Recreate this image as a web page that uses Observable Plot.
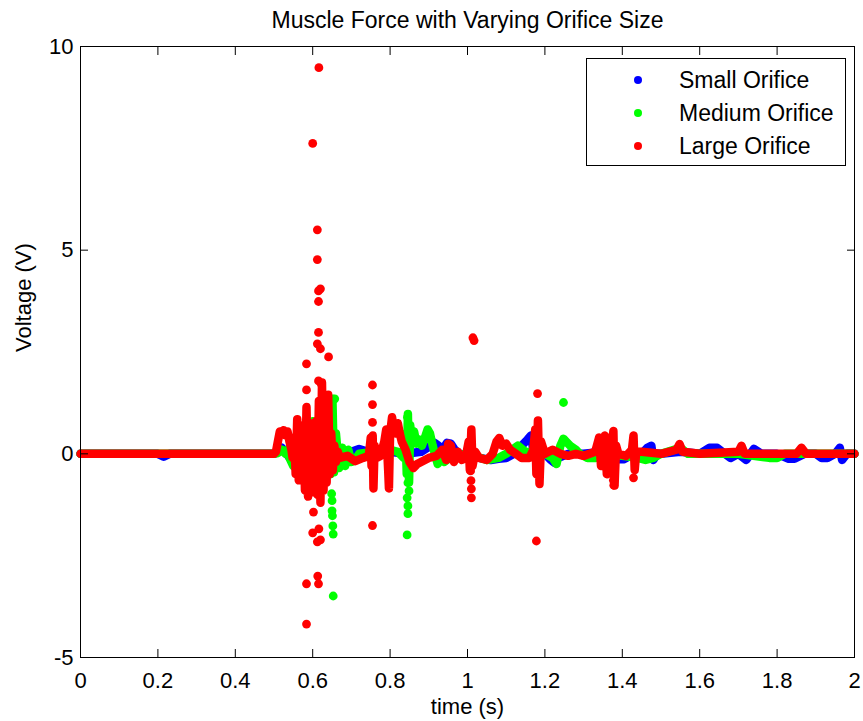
<!DOCTYPE html>
<html><head><meta charset="utf-8">
<script src="https://cdn.jsdelivr.net/npm/d3@7"></script>
<script src="https://cdn.jsdelivr.net/npm/@observablehq/plot@0.6"></script>
<style>
body{margin:0;background:#fff;}
#wrap{position:relative;width:863px;height:721px;font-family:"Liberation Sans",Arial,sans-serif;}
#legend{position:absolute;left:586px;top:58px;width:258px;height:106px;border:1px solid #000;background:#fff;}
#legend .dot{position:absolute;left:47px;width:8px;height:8px;border-radius:50%;}
#legend .lab{position:absolute;left:92px;font-size:23px;line-height:23px;white-space:nowrap;color:#000;}
</style>
</head><body>
<div id="wrap"><div id="chart"></div><div id="legend"></div></div>
<script>
// ---- data ----
const seriesNames = ["Small Orifice", "Medium Orifice", "Large Orifice"];
const seriesColors = ["#0000ff", "#00ff00", "#ff0000"];
const xTicks = [0, 0.2, 0.4, 0.6, 0.8, 1, 1.2, 1.4, 1.6, 1.8, 2];
const xTickLabels = ["0", "0.2", "0.4", "0.6", "0.8", "1", "1.2", "1.4", "1.6", "1.8", "2"];
const yTicks = [-5, 0, 5, 10];
const yTickLabels = ["-5", "0", "5", "10"];

// Small orifice: dense trace
const smallT = [0, 0.2, 0.215, 0.23, 0.5, 0.52, 0.55, 0.58, 0.61, 0.64, 0.67, 0.70, 0.72, 0.76, 0.80, 0.84, 0.88, 0.905, 0.915, 0.925, 0.935, 0.947, 0.957, 0.967, 0.98, 1.0, 1.03, 1.06, 1.08, 1.1, 1.12, 1.13, 1.145, 1.155, 1.164, 1.17, 1.18, 1.2, 1.215, 1.225, 1.235, 1.26, 1.3, 1.35, 1.39, 1.405, 1.42, 1.45, 1.465, 1.475, 1.48, 1.49, 1.5, 1.55, 1.6, 1.625, 1.645, 1.665, 1.68, 1.70, 1.72, 1.74, 1.76, 1.8, 1.83, 1.845, 1.87, 1.9, 1.915, 1.93, 1.95, 1.962, 1.968, 1.98, 2.0];
const smallV = [0, 0, -0.07, 0, 0, 0.15, -0.2, 0.25, -0.3, 0.3, -0.15, 0.05, 0.12, 0, 0.05, 0, 0.05, 0.2, 0.27, 0.2, 0.1, 0.27, 0.25, 0.1, 0.0, -0.05, -0.1, -0.15, -0.12, -0.1, 0.0, 0.1, 0.25, 0.35, 0.45, 0.1, -0.05, 0.0, -0.15, -0.22, -0.1, 0.0, 0.0, 0.05, -0.13, -0.13, -0.05, 0.0, 0.15, 0.2, -0.15, 0.0, 0.0, 0.05, 0.0, 0.15, 0.15, 0.0, -0.1, 0.0, -0.15, 0.12, 0.0, 0.0, -0.12, -0.12, 0.0, 0.0, -0.1, -0.1, 0.0, 0.15, -0.15, 0.0, 0.0];
const smallSpikeT = [];
const smallSpikeV = [];

// Medium orifice
const mediumT = [0, 0.5, 0.51, 0.52, 0.53, 0.535, 0.54, 0.55, 0.56, 0.57, 0.58, 0.59, 0.60, 0.61, 0.62, 0.63, 0.64, 0.646, 0.651, 0.655, 0.66, 0.668, 0.676, 0.684, 0.692, 0.70, 0.71, 0.72, 0.76, 0.80, 0.82, 0.835, 0.84, 0.843, 0.846, 0.849, 0.852, 0.856, 0.862, 0.868, 0.875, 0.882, 0.89, 0.897, 0.903, 0.91, 0.917, 0.923, 0.93, 0.94, 0.96, 1.0, 1.05, 1.08, 1.1, 1.13, 1.15, 1.2, 1.22, 1.23, 1.24, 1.248, 1.255, 1.265, 1.28, 1.29, 1.31, 1.33, 1.36, 1.44, 1.46, 1.48, 1.5, 1.55, 1.57, 1.7, 1.78, 1.8, 1.82, 2.0];
const mediumV = [0, 0, 0.02, 0.1, 0.0, 0.1, -0.1, -0.3, 0.5, -0.6, 0.7, -0.7, 0.8, -0.8, 0.9, -0.7, 1.0, -0.5, 1.35, -0.45, 0.5, -0.35, 0.15, -0.3, 0.1, -0.2, -0.15, 0.0, 0.05, 0.1, 0.05, -0.1, 0.5, -0.5, 0.98, -0.7, 0.7, 0.3, 0.55, 0.25, 0.35, 0.2, 0.4, 0.6, 0.5, 0.2, -0.05, -0.25, -0.15, -0.2, -0.05, 0.0, -0.15, -0.1, 0.0, 0.2, 0.05, 0.0, -0.1, -0.25, 0.2, 0.37, 0.3, 0.2, 0.1, 0.0, -0.1, -0.1, 0.0, -0.1, -0.15, -0.1, 0, 0.15, 0, 0, -0.1, -0.1, 0, 0];
const mediumSpikeT = [0.657, 0.649, 0.650, 0.650, 0.651, 0.652, 0.653, 0.653, 0.845, 0.846, 0.849, 0.844, 0.846, 0.846, 0.844, 1.248];
const mediumSpikeV = [1.35, -0.98, -1.15, -1.4, -1.52, -1.77, -1.97, -3.49, 0.9, -0.71, -0.91, -1.08, -1.28, -1.47, -1.99, 1.26];

// Large orifice
const largeT = [0, 0.5, 0.505, 0.51, 0.515, 0.52, 0.525, 0.53, 0.535, 0.54, 0.545, 0.548, 0.552, 0.556, 0.56, 0.564, 0.568, 0.572, 0.576, 0.58, 0.584, 0.588, 0.592, 0.596, 0.60, 0.604, 0.608, 0.612, 0.616, 0.62, 0.624, 0.628, 0.632, 0.636, 0.64, 0.644, 0.648, 0.652, 0.656, 0.66, 0.665, 0.67, 0.69, 0.71, 0.73, 0.745, 0.75, 0.752, 0.755, 0.757, 0.76, 0.765, 0.775, 0.785, 0.79, 0.795, 0.797, 0.80, 0.805, 0.81, 0.815, 0.82, 0.825, 0.83, 0.84, 0.85, 0.86, 0.87, 0.88, 0.89, 0.90, 0.92, 0.935, 0.945, 0.95, 0.957, 0.965, 0.975, 0.985, 0.995, 1.003, 1.006, 1.01, 1.013, 1.02, 1.03, 1.05, 1.065, 1.075, 1.082, 1.09, 1.1, 1.11, 1.125, 1.14, 1.16, 1.17, 1.175, 1.178, 1.182, 1.186, 1.19, 1.2, 1.22, 1.24, 1.26, 1.28, 1.3, 1.33, 1.34, 1.345, 1.35, 1.355, 1.36, 1.365, 1.372, 1.377, 1.38, 1.384, 1.39, 1.41, 1.425, 1.429, 1.432, 1.436, 1.45, 1.5, 1.54, 1.548, 1.556, 1.6, 1.7, 1.708, 1.716, 1.85, 1.863, 1.875, 2.0];
const largeV = [0, 0, 0.05, 0.3, 0.55, 0.5, 0.58, 0.45, 0.55, 0.3, 0.1, -0.1, 0.4, -0.5, 0.85, -0.65, 0.5, -0.4, 0.7, -0.9, 1.15, -1.05, 0.6, -0.8, 0.75, -0.95, 0.8, -1.0, 1.3, -1.2, 1.75, -0.9, 1.1, -0.7, 1.45, -0.5, 0.5, -0.4, 0.2, -0.2, 0.05, -0.1, -0.05, -0.18, -0.1, -0.05, 0.4, -0.3, 0.45, -0.85, 0.2, -0.1, -0.05, 0.3, 0.6, -0.4, -0.85, 0.5, 0.9, 0.6, 0.5, 0.75, 0.5, 0.3, 0.1, -0.2, -0.35, -0.25, -0.2, -0.15, -0.1, -0.05, 0.1, -0.15, 0.25, 0.2, -0.2, 0.05, -0.15, -0.1, 0.3, -0.4, 0.6, -0.3, 0.05, -0.1, -0.15, 0.0, 0.3, 0.39, 0.2, 0.25, 0.1, 0.0, -0.1, -0.1, 0.1, 0.6, -0.5, 0.82, -0.74, 0.3, 0.0, 0.1, 0.0, -0.05, 0.0, -0.05, 0.05, 0.4, -0.3, 0.3, 0.45, -0.5, 0.3, 0.1, 0.56, -0.78, 0.2, 0.0, -0.05, 0.1, 0.45, -0.4, 0.05, 0.05, 0.0, 0.1, 0.24, 0.05, 0.0, 0.05, 0.2, 0.0, 0.0, 0.15, 0.0, 0.0];
const largeSpikeT = [0.616, 0.600, 0.612, 0.612, 0.620, 0.615, 0.615, 0.615, 0.612, 0.620, 0.641, 0.584, 0.615, 0.622, 0.584, 0.602, 0.600, 0.616, 0.612, 0.620, 0.584, 0.615, 0.613, 0.584, 0.7545, 0.7545, 0.7545, 0.7545, 1.014, 1.017, 1.181, 1.178, 1.429, 1.008, 1.009, 1.010, 1.010, 1.36, 1.366, 1.377, 1.378];
const largeSpikeV = [9.48, 7.62, 5.50, 4.77, 4.05, 4.0, 3.74, 2.98, 2.70, 2.58, 2.38, 2.21, 1.79, 1.72, 1.57, -1.43, -1.94, -1.84, -2.16, -2.11, -3.19, -3.19, -3.0, -4.18, 1.69, 1.21, 0.77, -1.76, 2.85, 2.78, 1.48, -2.14, -0.59, -0.42, -0.66, -0.86, -1.08, -0.36, -0.41, -0.65, -0.77];

// ---- build tables ----
const toRows = (T, V) => T.map((t, i) => ({t, v: V[i]}));
const traces = [toRows(smallT, smallV), toRows(mediumT, mediumV), toRows(largeT, largeV)];
const spikes = [toRows(smallSpikeT, smallSpikeV), toRows(mediumSpikeT, mediumSpikeV), toRows(largeSpikeT, largeSpikeV)];

const font = "Liberation Sans, Arial, sans-serif";
const marks = [];
for (let s = 0; s < 3; s++) {
  marks.push(Plot.line(traces[s], {x: "t", y: "v", stroke: seriesColors[s], strokeWidth: 8.5, strokeLinecap: "round", strokeLinejoin: "round"}));
  marks.push(Plot.dot(spikes[s], {x: "t", y: "v", r: 4.4, fill: seriesColors[s], stroke: "none"}));
}
marks.push(
  Plot.frame({stroke: "black", strokeWidth: 1}),
  Plot.axisX(xTicks, {anchor: "bottom", tickSize: -8, tickFormat: () => "", label: null}),
  Plot.axisX(xTicks, {anchor: "top", tickSize: -8, tickFormat: () => "", label: null}),
  Plot.axisY(yTicks, {anchor: "left", tickSize: -8, tickFormat: () => "", label: null}),
  Plot.axisY(yTicks, {anchor: "right", tickSize: -8, tickFormat: () => "", label: null}),
  Plot.axisX(xTicks, {anchor: "bottom", tickSize: 0, tickPadding: 15, tickFormat: (d, i) => xTickLabels[i], label: null, fontSize: 22}),
  Plot.axisY(yTicks, {anchor: "left", tickSize: 0, tickPadding: 7, tickFormat: (d, i) => yTickLabels[i], label: null, fontSize: 22}),
  Plot.text(["Muscle Force with Varying Orifice Size"], {text: d => d, frameAnchor: "top", lineAnchor: "bottom", dy: -19, fontSize: 23}),
  Plot.text(["time (s)"], {text: d => d, frameAnchor: "bottom", lineAnchor: "bottom", dy: 56, fontSize: 22}),
  Plot.text(["Voltage (V)"], {text: d => d, frameAnchor: "left", rotate: -90, dx: -57, fontSize: 22})
);

const chart = Plot.plot({
  width: 863, height: 721,
  marginLeft: 80, marginRight: 9, marginTop: 46, marginBottom: 64,
  style: {fontFamily: font, fontSize: "22px", background: "white", color: "black", overflow: "visible"},
  x: {domain: [0, 2]},
  y: {domain: [-5, 10]},
  marks
});
document.getElementById("chart").appendChild(chart);

// legend overlay
const legend = document.getElementById("legend");
const rowCenters = [22, 55, 88];
seriesNames.forEach((name, i) => {
  const dot = document.createElement("div");
  dot.className = "dot";
  dot.style.background = seriesColors[i];
  dot.style.top = (rowCenters[i] - 5) + "px";
  legend.appendChild(dot);
  const lab = document.createElement("div");
  lab.className = "lab";
  lab.textContent = name;
  lab.style.top = (rowCenters[i] - 12) + "px";
  legend.appendChild(lab);
});
</script>
</body></html>
